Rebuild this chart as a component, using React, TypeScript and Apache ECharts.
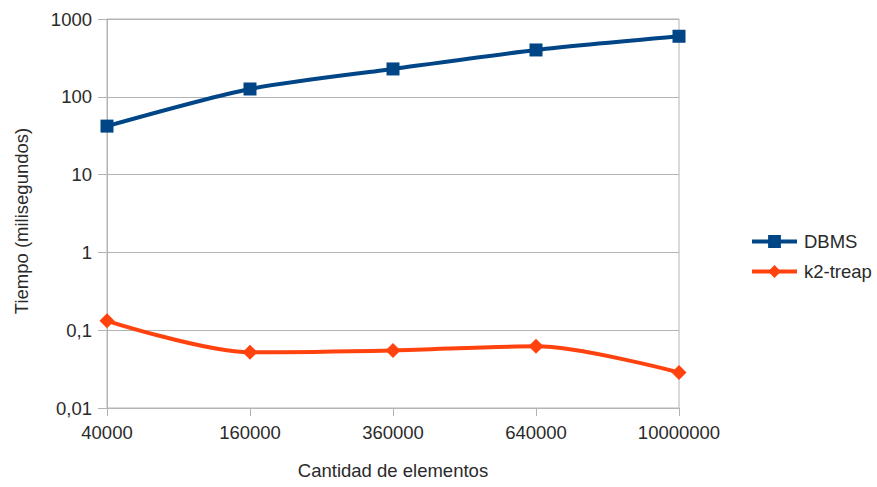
import React, { useEffect, useRef } from "react";
import * as echarts from "echarts";

const categories = ["40000", "160000", "360000", "640000", "10000000"];
const dbmsValues = [42, 126, 228, 400, 600];
const k2treapValues = [0.132, 0.052, 0.055, 0.062, 0.0286];
const seriesNames = ["DBMS", "k2-treap"];
const xAxisTitle = "Cantidad de elementos";
const yAxisTitle = "Tiempo (milisegundos)";

const FONT = "'Liberation Sans', Arial, sans-serif";
const TEXT = "#2a2a2a";
const GRID = "#b3b3b3";
const FS = 18.5;

export default function App() {
  const ref = useRef<HTMLDivElement>(null);
  useEffect(() => {
    if (!ref.current) return;
    const chart = echarts.init(ref.current, undefined, { renderer: "svg" });
    chart.setOption({
      animation: false,
      textStyle: { fontFamily: FONT },
      grid: {
        left: 107,
        right: 198,
        top: 19,
        bottom: 79,
        show: true,
        borderColor: GRID,
        borderWidth: 1,
        containLabel: false,
      },
      legend: {
        orient: "vertical",
        left: 750,
        top: 232,
        padding: 0,
        itemWidth: 45,
        itemHeight: 16,
        itemGap: 11,
        lineStyle: { width: 4 },
        textStyle: { fontFamily: FONT, fontSize: FS, color: TEXT, padding: [0, 0, 0, 2] },
        data: seriesNames,
      },
      xAxis: {
        type: "category",
        data: categories,
        boundaryGap: false,
        name: xAxisTitle,
        nameLocation: "middle",
        nameGap: 53,
        nameTextStyle: { fontFamily: FONT, fontSize: FS, color: TEXT },
        axisLine: { lineStyle: { color: GRID, width: 1 } },
        axisTick: { show: true, length: 8, lineStyle: { color: GRID } },
        axisLabel: { fontFamily: FONT, fontSize: FS, color: TEXT, margin: 15 },
        splitLine: { show: false },
      },
      yAxis: {
        type: "log",
        logBase: 10,
        min: 0.01,
        max: 1000,
        axisLine: { show: true, lineStyle: { color: GRID, width: 1 } },
        axisTick: { show: true, length: 9, lineStyle: { color: GRID } },
        axisLabel: {
          fontFamily: FONT,
          fontSize: FS,
          color: TEXT,
          margin: 15,
          formatter: (v: number) => {
            const s = v >= 1 ? String(Math.round(v)) : String(parseFloat(v.toPrecision(3)));
            return s.replace(".", ",");
          },
        },
        splitLine: { show: true, lineStyle: { color: GRID, width: 1 } },
        minorTick: { show: false },
      },
      graphic: [
        {
          type: "text",
          x: 21,
          y: 221,
          rotation: Math.PI / 2,
          style: {
            text: yAxisTitle,
            fontFamily: FONT,
            fontSize: FS,
            fill: TEXT,
            align: "center",
            verticalAlign: "middle",
          },
        },
      ],
      series: [
        {
          name: seriesNames[0],
          type: "line",
          data: dbmsValues,
          smooth: 0.25,
          symbol: "rect",
          symbolSize: 13,
          lineStyle: { color: "#004586", width: 4 },
          itemStyle: { color: "#004586" },
        },
        {
          name: seriesNames[1],
          type: "line",
          data: k2treapValues,
          smooth: 0.3,
          symbol: "diamond",
          symbolSize: 15,
          lineStyle: { color: "#ff420e", width: 4 },
          itemStyle: { color: "#ff420e" },
        },
      ],
    });
    return () => chart.dispose();
  }, []);
  return (
    <div
      ref={ref}
      style={{ position: "fixed", left: 0, top: 0, width: 877, height: 487, background: "#fff" }}
    />
  );
}
